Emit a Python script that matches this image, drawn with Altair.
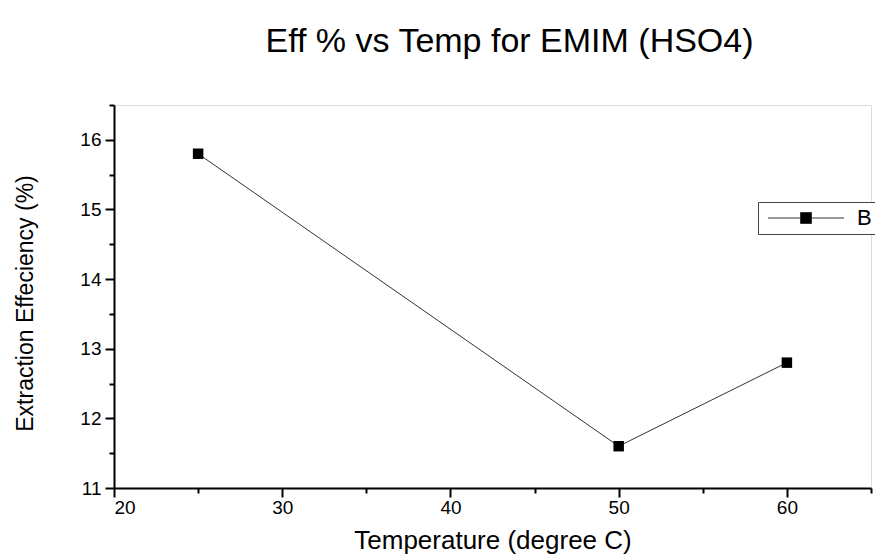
import altair as alt
import pandas as pd

temps = [25, 50, 60]
eff = [15.8, 11.6, 12.8]
series = ["B", "B", "B"]

x_major = [20, 30, 40, 50, 60]
x_minor = [25, 35, 45, 55, 65]
y_major = [11, 12, 13, 14, 15, 16]
y_minor = [11.5, 12.5, 13.5, 14.5, 15.5, 16.5]

df = pd.DataFrame({"temp": temps, "eff": eff, "series": series})

FONT = "Liberation Sans"
xscale = alt.Scale(domain=[20, 65], nice=False, zero=False)
yscale = alt.Scale(domain=[11, 16.5], nice=False, zero=False)

# legend glyph: line - filled square - line (unit = sqrt(size)/2 px)
legend_path = "M-3.8,0H-0.55M0.55,0H3.8M-0.55,-0.55H0.55V0.55H-0.55Z"

line = alt.Chart(df).mark_line(strokeWidth=1).encode(
    x=alt.X("temp:Q", scale=xscale,
            axis=alt.Axis(values=x_major, title="Temperature (degree C)", format="d",
                          orient="bottom", grid=False, domainWidth=2, domainColor="black",
                          tickColor="black", tickWidth=2, tickSize=9,
                          labelFont=FONT, labelFontSize=19, labelColor="black", labelPadding=1,
                          titleFont=FONT, titleFontSize=26, titleFontWeight="normal",
                          titleColor="black", titleY=52, titleBaseline="middle")),
    y=alt.Y("eff:Q", scale=yscale,
            axis=alt.Axis(values=y_major, title="Extraction Effeciency (%)", format="d",
                          orient="left", grid=False, domainWidth=2, domainColor="black",
                          tickColor="black", tickWidth=2, tickSize=9,
                          labelFont=FONT, labelFontSize=19, labelColor="black", labelPadding=4,
                          titleFont=FONT, titleFontSize=23, titleFontWeight="normal",
                          titleColor="black", titleX=-77, titleY=198)),
    color=alt.Color("series:N", scale=alt.Scale(domain=["B"], range=["#333333"]),
                    legend=alt.Legend(title=None, orient="none", legendX=644, legendY=97,
                                      symbolType=legend_path, symbolSize=400,
                                      symbolOffset=32,
                                      symbolFillColor="black", symbolStrokeColor="#444444",
                                      symbolStrokeWidth=1,
                                      labelFont=FONT, labelFontSize=22, labelColor="black",
                                      labelOffset=40,
                                      strokeColor="#444444", padding=5, fillColor="white")),
)

points = alt.Chart(df).mark_square(size=110, color="black", opacity=1, filled=True).encode(
    x=alt.X("temp:Q", scale=xscale,
            axis=alt.Axis(values=x_minor, labels=False, title=None, orient="bottom",
                          grid=False, domain=False, tickColor="black", tickWidth=2, tickSize=5)),
    y=alt.Y("eff:Q", scale=yscale,
            axis=alt.Axis(values=y_minor, labels=False, title=None, orient="left",
                          grid=False, domain=False, tickColor="black", tickWidth=2, tickSize=5)),
)

chart = alt.layer(line, points).resolve_axis(x="independent", y="independent").properties(
    width=757, height=383,
    autosize=alt.AutoSizeParams(type="none"),
    padding={"left": 114, "top": 105, "right": 4, "bottom": 68},
    title=alt.TitleParams("Eff % vs Temp for EMIM (HSO4)", font=FONT, fontSize=34,
                          fontWeight="normal", color="black", anchor="middle", offset=45,
                          dx=17),
).configure_view(stroke=None).configure(background="white")

chart.save("out.html", embed_options={"renderer": "svg", "actions": False})
